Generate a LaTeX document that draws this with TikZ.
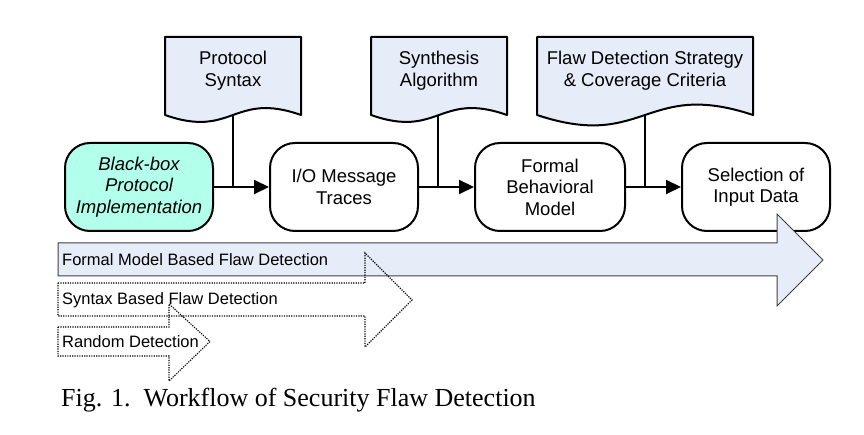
\documentclass[tikz,border=0pt]{standalone}
\usepackage{fontspec}
\setmainfont{Liberation Sans}
\newfontfamily\capfont{Liberation Serif}
\usetikzlibrary{arrows.meta}
\definecolor{docblue}{RGB}{230,236,248}
\definecolor{bbcyan}{RGB}{178,255,236}
\tikzset{
  docshape/.style={draw=black, fill=docblue, line width=2pt, line join=round},
  procbox/.style={draw=black, line width=2pt, rounded corners=25pt, minimum width=148pt, minimum height=88pt, align=center, inner sep=0pt, font=\fontsize{18.5}{21.5}\selectfont},
  doctext/.style={align=center, inner sep=0pt, font=\fontsize{18.5}{21.5}\selectfont},
  flow/.style={line width=2pt, -{Triangle[length=15pt,width=14pt]}},
  feed/.style={line width=2pt},
  bigarrow/.style={draw=black!75, fill=docblue, line width=1pt},
  dotarrow/.style={draw=black, line width=1.1pt, dash pattern=on 1.2pt off 1.2pt},
  bartext/.style={anchor=west, inner sep=0pt, font=\fontsize{16.5}{19}\selectfont},
}
\begin{document}
\begin{tikzpicture}[x=1pt,y=-1pt]
\useasboundingbox (0,0) rectangle (864,435);
% documents
\draw[docshape] (301,115) -- (301,37) -- (165,37) -- (165,115) .. controls (233,139) and (233,91) .. (301,115) -- cycle;
\draw[docshape] (507,115) -- (507,37) -- (371,37) -- (371,115) .. controls (439,139) and (439,91) .. (507,115) -- cycle;
\draw[docshape] (753,115) -- (753,37) -- (537,37) -- (537,115) .. controls (645,151) and (645,79) .. (753,115) -- cycle;
\coordinate (psb) at (233,115);
\coordinate (sab) at (438,115);
\coordinate (fdb) at (645,115);
\node[doctext] (ps) at (233,70.5) {Protocol\\Syntax};
\node[doctext] (sa) at (439,70.5) {Synthesis\\Algorithm};
\node[doctext] (fd) at (645,70.5) {Flaw Detection Strategy\\\& Coverage Criteria};
% process boxes
\node[procbox, fill=bbcyan, font=\fontsize{18.5}{21.5}\selectfont\itshape] (bb) at (139,187) {Black-box\\Protocol\\Implementation};
\node[procbox] (io) at (344,187) {I/O Message\\Traces};
\node[procbox, minimum width=150pt] (fm) at (550,187) {Formal\\Behavioral\\Model};
\node[procbox] (si) at (756,187) {Selection of\\Input Data};
% connectors
\draw[flow] (bb.east) -- (io.west);
\draw[flow] (io.east) -- (fm.west);
\draw[flow] (fm.east) -- (si.west);
\draw[feed] (psb) -- (psb |- bb.east);
\draw[feed] (sab) -- (sab |- io.east);
\draw[feed] (fdb) -- (fdb |- fm.east);
% detection arrows
\draw[bigarrow] (58,243) -- (777,243) -- (777,214) -- (823,260) -- (777,306) -- (777,276) -- (58,276) -- cycle;
\draw[dotarrow] (58,283) -- (365,283) -- (365,253) -- (412,300) -- (365,347) -- (365,316) -- (58,316) -- cycle;
\draw[dotarrow] (58,327) -- (169,327) -- (169,304) -- (210,341.5) -- (169,381) -- (169,356) -- (58,356) -- cycle;
\node[bartext] (fmt) at (62,259.5) {Formal Model Based Flaw Detection};
\node[bartext] (sbt) at (62,300) {Syntax Based Flaw Detection};
\node[bartext] (rdt) at (62,341.5) {Random Detection};
% caption
\node[anchor=west, inner sep=0pt, font=\capfont\fontsize{26}{30}\selectfont] (cap) at (61,400) {Fig. 1.\ \ Workflow of Security Flaw Detection};
\end{tikzpicture}
\end{document}
